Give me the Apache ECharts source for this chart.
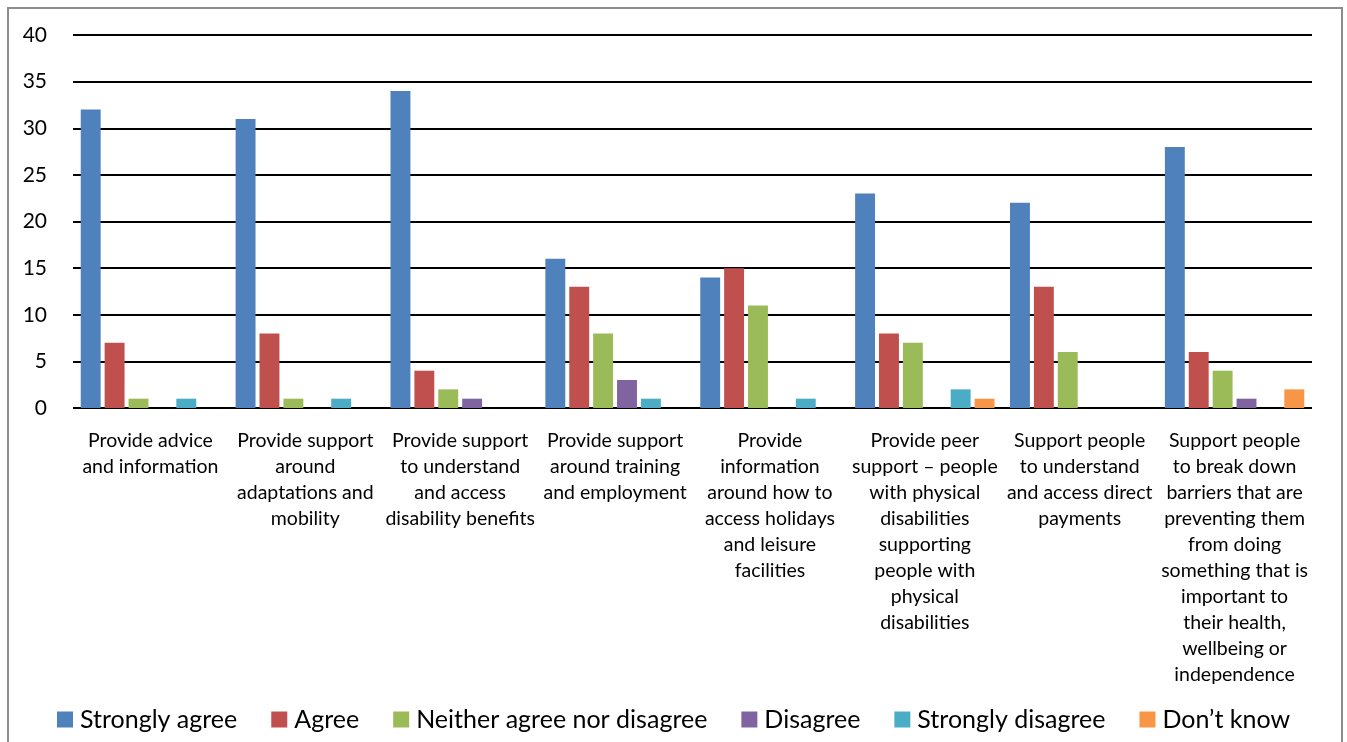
<!DOCTYPE html>
<html>
<head>
<meta charset="utf-8">
<script src="https://cdn.jsdelivr.net/npm/echarts@6/dist/echarts.min.js"></script>
<style>
  html, body { margin: 0; padding: 0; background: #ffffff; }
  #chart { width: 1347px; height: 742px; }
</style>
</head>
<body>
<div id="chart"></div>
<script>
// Survey responses: what the service should provide
const categories = [
  "Provide advice\nand information",
  "Provide support\naround\nadaptations and\nmobility",
  "Provide support\nto understand\nand access\ndisability benefits",
  "Provide support\naround training\nand employment",
  "Provide\ninformation\naround how to\naccess holidays\nand leisure\nfacilities",
  "Provide peer\nsupport \u2013 people\nwith physical\ndisabilities\nsupporting\npeople with\nphysical\ndisabilities",
  "Support people\nto understand\nand access direct\npayments",
  "Support people\nto break down\nbarriers that are\npreventing them\nfrom doing\nsomething that is\nimportant to\ntheir health,\nwellbeing or\nindependence"
];

const stronglyAgree    = [32, 31, 34, 16, 14, 23, 22, 28];
const agree            = [7, 8, 4, 13, 15, 8, 13, 6];
const neither          = [1, 1, 2, 8, 11, 7, 6, 4];
const disagree         = [0, 0, 1, 3, 0, 0, 0, 1];
const stronglyDisagree = [1, 1, 0, 1, 1, 2, 0, 0];
const dontKnow         = [0, 0, 0, 0, 0, 1, 0, 2];

const seriesNames = ["Strongly agree", "Agree", "Neither agree nor disagree", "Disagree", "Strongly disagree", "Don\u2019t know"];
const seriesData = [stronglyAgree, agree, neither, disagree, stronglyDisagree, dontKnow];
const colors = ["#4F81BD", "#C0504D", "#9BBB59", "#8064A2", "#4BACC6", "#F79646"];

const yTicks = { min: 0, max: 40, interval: 5 };

const font = "Lato, 'Open Sans', sans-serif";

const chart = echarts.init(document.getElementById("chart"), null, { renderer: "canvas" });

chart.setOption({
  animation: false,
  color: colors,
  textStyle: { fontFamily: font, color: "#000" },
  graphic: [{
    type: "rect",
    shape: { x: 8, y: 8, width: 1334, height: 800 },
    style: { fill: "none", stroke: "#8c8c8c", lineWidth: 2 },
    silent: true,
    z: -1
  }],
  grid: { left: 73, right: 35, top: 35, bottom: 334 },
  legend: {
    bottom: 5,
    left: "center",
    itemWidth: 16,
    itemHeight: 16,
    itemGap: 34,
    icon: "rect",
    textStyle: { fontSize: 25, fontFamily: font, color: "#000", padding: [0, 0, 0, 2] },
    data: seriesNames
  },
  xAxis: {
    type: "category",
    data: categories,
    axisLine: { show: false },
    axisTick: { show: false },
    axisLabel: {
      interval: 0,
      fontSize: 19.5,
      lineHeight: 26,
      margin: 20,
      color: "#000",
      fontFamily: font
    }
  },
  yAxis: {
    type: "value",
    min: yTicks.min,
    max: yTicks.max,
    interval: yTicks.interval,
    axisLine: { show: false },
    axisTick: { show: false },
    axisLabel: { fontSize: 21, color: "#000", margin: 26, fontFamily: font },
    splitLine: { lineStyle: { color: "#000", width: 2 } }
  },
  series: seriesNames.map((name, i) => ({
    name: name,
    type: "bar",
    data: seriesData[i],
    barGap: "20%",
    barCategoryGap: "10%"
  }))
});
</script>
</body>
</html>
